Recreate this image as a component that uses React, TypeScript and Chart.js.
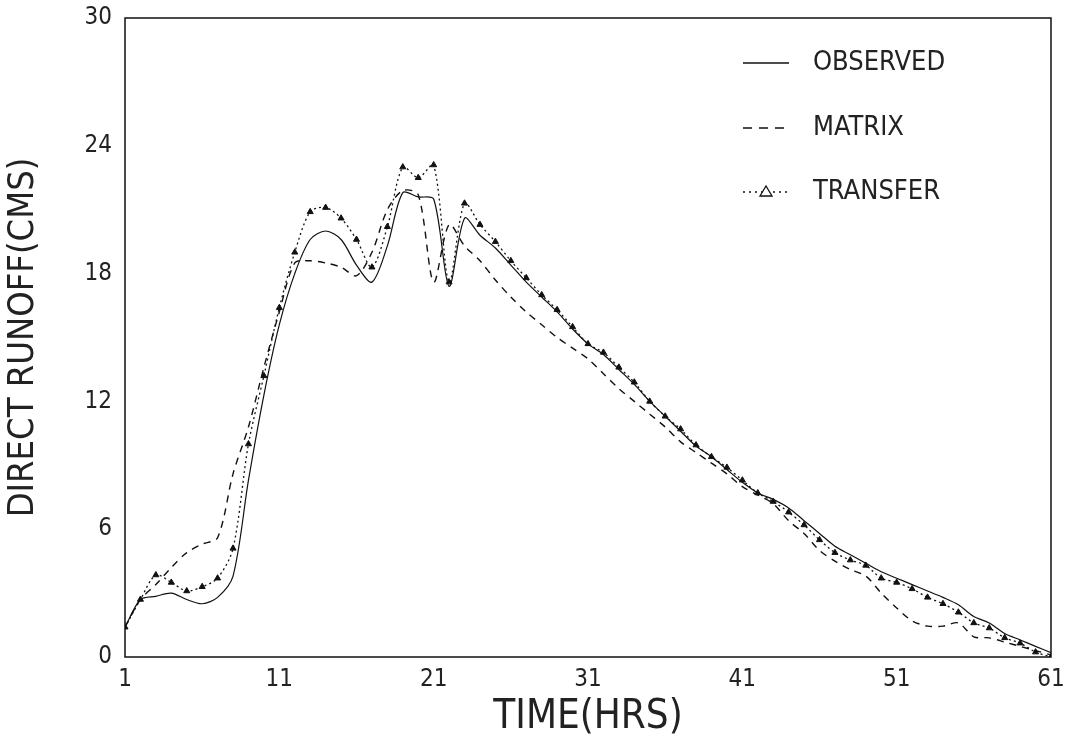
import React, { useEffect, useRef } from "react";
import { Chart, registerables } from "chart.js";

Chart.register(...registerables);

const hours: number[] = Array.from({ length: 61 }, (_, i) => i + 1);

const observed: number[] = [
  1.4, 2.7, 2.85, 3.0, 2.7, 2.5, 2.8, 3.8, 8.3, 12.3,
  15.6, 18.0, 19.6, 20.0, 19.6, 18.4, 17.6, 19.3, 21.8, 21.6,
  21.5, 17.4, 20.6, 19.8, 19.2, 18.4, 17.6, 16.9, 16.2, 15.4,
  14.7, 14.2, 13.5, 12.8, 12.0, 11.3, 10.6, 9.9, 9.4, 8.8,
  8.2, 7.7, 7.4, 7.0, 6.4, 5.8, 5.2, 4.8, 4.4, 4.0,
  3.7, 3.4, 3.1, 2.8, 2.45, 1.9, 1.6, 1.1, 0.8, 0.5,
  0.2,
];

const matrix: number[] = [
  1.4, 2.7, 3.4, 4.2, 4.9, 5.3, 5.6, 8.6, 10.8, 13.6,
  16.2, 18.5, 18.6, 18.5, 18.3, 17.9, 19.0, 21.0, 21.9, 21.7,
  17.6, 20.3, 19.3, 18.6, 17.7, 16.9, 16.2, 15.6, 15.0, 14.5,
  14.0, 13.3, 12.6, 12.0, 11.4, 10.8, 10.1, 9.6, 9.1, 8.6,
  8.0, 7.6, 7.2, 6.4, 5.8, 5.0, 4.5, 4.1, 3.8, 3.0,
  2.3, 1.7, 1.45, 1.45, 1.6, 0.95, 0.9, 0.7, 0.5, 0.3,
  0.1,
];

const transfer: number[] = [
  1.4, 2.7, 3.85, 3.5, 3.1, 3.3, 3.7, 5.1, 10.0, 13.2,
  16.4, 19.0, 20.9, 21.1, 20.6, 19.6, 18.3, 20.2, 23.0, 22.5,
  23.1, 17.6, 21.3, 20.3, 19.5, 18.6, 17.8, 17.0, 16.3, 15.5,
  14.7, 14.3, 13.6, 12.9, 12.0, 11.3, 10.7, 9.95, 9.4, 8.9,
  8.3, 7.7, 7.3, 6.8, 6.2, 5.5, 4.9, 4.55, 4.3, 3.7,
  3.5, 3.2, 2.8, 2.5, 2.1, 1.6, 1.36, 0.9, 0.65, 0.23,
  0.0,
];

const seriesNames: string[] = ["OBSERVED", "MATRIX", "TRANSFER"];
const xTitle = "TIME(HRS)";
const yTitle = "DIRECT RUNOFF(CMS)";

const FONT = "'Liberation Sans Narrow', 'DejaVu Sans Condensed', 'Liberation Sans', sans-serif";

const framePlugin = {
  id: "frameAndLegend",
  afterDraw(chart: any) {
    const { ctx, chartArea } = chart;
    const { left, top, right, bottom } = chartArea;
    ctx.save();
    ctx.strokeStyle = "#111";
    ctx.lineWidth = 1.5;
    ctx.setLineDash([]);
    ctx.strokeRect(left, top, right - left, bottom - top);

    // legend
    const lx0 = 743;
    const lx1 = 789;
    const tx = 813;
    const ys = [63, 128, 192];
    ctx.font = `27px ${FONT}`;
    ctx.fillStyle = "#222";
    ctx.textBaseline = "middle";
    ctx.textAlign = "left";
    ys.forEach((y, i) => {
      ctx.beginPath();
      ctx.strokeStyle = "#111";
      ctx.lineWidth = 1.3;
      if (i === 0) ctx.setLineDash([]);
      else if (i === 1) ctx.setLineDash([9, 7]);
      else ctx.setLineDash([2, 4]);
      ctx.moveTo(lx0, y);
      ctx.lineTo(lx1, y);
      ctx.stroke();
      ctx.setLineDash([]);
      if (i === 2) {
        const cx = (lx0 + lx1) / 2;
        ctx.fillStyle = "#fff";
        ctx.beginPath();
        ctx.moveTo(cx - 6, y + 4);
        ctx.lineTo(cx + 6, y + 4);
        ctx.lineTo(cx, y - 6);
        ctx.closePath();
        ctx.fill();
        ctx.stroke();
        ctx.fillStyle = "#222";
      }
      ctx.fillText(seriesNames[i], tx, y);
    });
    ctx.restore();
  },
};

export default function App() {
  const canvasRef = useRef<HTMLCanvasElement | null>(null);

  useEffect(() => {
    document.body.style.margin = "0";
    const canvas = canvasRef.current;
    if (!canvas) return;
    const toXY = (arr: number[]) => arr.map((v, i) => ({ x: hours[i], y: v }));
    const chart = new Chart(canvas, {
      type: "line",
      data: {
        datasets: [
          {
            label: seriesNames[0],
            data: toXY(observed),
            borderColor: "#111",
            borderWidth: 1.2,
            pointRadius: 0,
            tension: 0.3,
          },
          {
            label: seriesNames[1],
            data: toXY(matrix),
            borderColor: "#111",
            borderWidth: 1.4,
            borderDash: [7, 6],
            pointRadius: 0,
            tension: 0.3,
          },
          {
            label: seriesNames[2],
            data: toXY(transfer),
            borderColor: "#111",
            borderWidth: 1.3,
            borderDash: [2, 3],
            pointStyle: "triangle",
            pointRadius: 3.5,
            pointBackgroundColor: "#111",
            pointBorderColor: "#111",
            pointBorderWidth: 1,
            tension: 0.3,
          },
        ],
      },
      options: {
        responsive: false,
        animation: false,
        layout: { padding: { top: 18, right: 16, left: 0, bottom: 0 } },
        plugins: {
          legend: { display: false },
          tooltip: { enabled: false },
        },
        scales: {
          x: {
            type: "linear",
            min: 1,
            max: 61,
            grid: { display: false, drawTicks: false },
            border: { display: false },
            ticks: {
              stepSize: 10,
              padding: 8,
              color: "#222",
              font: { family: FONT, size: 24 },
              maxRotation: 0,
            },
            title: {
              display: true,
              text: xTitle,
              color: "#222",
              font: { family: FONT, size: 40, lineHeight: 1 },
              padding: { top: 0, bottom: 5 },
            },
            afterFit: (scale: any) => {
              scale.height = 86;
              scale.paddingLeft = 0;
              scale.paddingRight = 0;
            },
          },
          y: {
            min: 0,
            max: 30,
            grid: { display: false, drawTicks: false },
            border: { display: false },
            ticks: {
              stepSize: 6,
              padding: 13,
              color: "#222",
              font: { family: FONT, size: 24 },
            },
            title: {
              display: true,
              text: yTitle,
              color: "#222",
              font: { family: FONT, size: 36, lineHeight: 1 },
              padding: { top: 6, bottom: 0 },
            },
            afterFit: (scale: any) => {
              scale.width = 125;
              scale.paddingTop = 0;
              scale.paddingBottom = 0;
            },
          },
        },
      },
      plugins: [framePlugin],
    });
    return () => chart.destroy();
  }, []);

  return (
    <div style={{ width: 1067, height: 743, background: "#fff" }}>
      <canvas ref={canvasRef} width={1067} height={743} style={{ display: "block" }} />
    </div>
  );
}
